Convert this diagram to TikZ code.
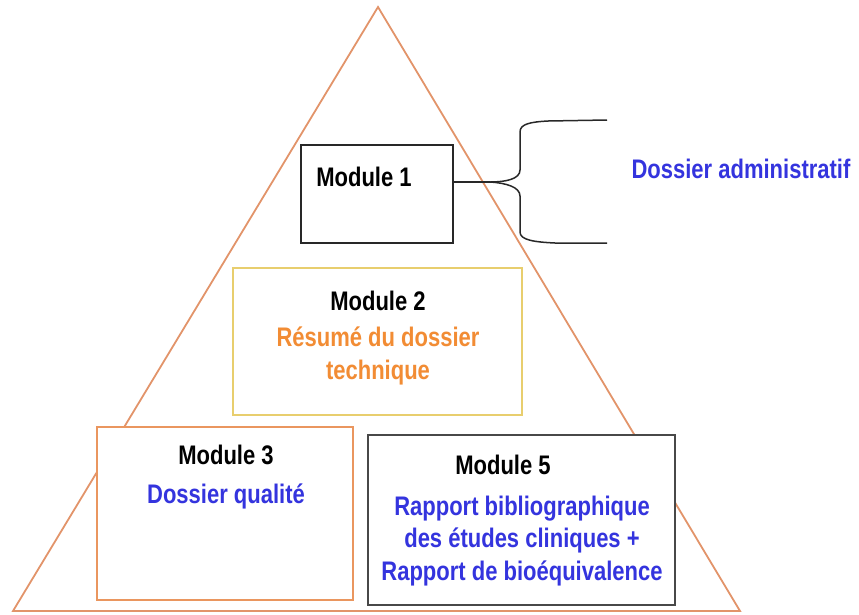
\documentclass[tikz,border=0pt]{standalone}
\usepackage{fontspec}
\setmainfont{Liberation Sans}
\definecolor{tri}{RGB}{226,148,106}
\definecolor{mblue}{RGB}{52,52,222}
\definecolor{morange}{RGB}{242,140,52}
\definecolor{gold}{RGB}{232,206,110}
\definecolor{m3c}{RGB}{234,150,95}
\definecolor{dk}{RGB}{40,40,40}
\begin{document}
\begin{tikzpicture}[x=1pt,y=1pt,
  box/.style={draw, fill=white, line width=1.8pt, inner sep=0pt},
  txt/.style={font=\fontsize{22}{27}\bfseries\selectfont, align=center, inner sep=0pt, transform shape, yscale=1.22},
  ]
\useasboundingbox (0,0) rectangle (859,-614);
% triangle
\coordinate (apex) at (378,-7);
\coordinate (bl) at (13,-611);
\coordinate (br) at (740,-611);
\draw[tri, line width=1.8pt, line join=miter] (apex) -- (bl) -- (br) -- cycle;
% boxes
\node[box, draw=dk, minimum width=152pt, minimum height=98pt] (m1) at (377,-194) {};
\node[box, draw=gold, minimum width=289pt, minimum height=147pt] (m2) at (377.5,-341.5) {};
\node[box, draw=m3c, minimum width=256pt, minimum height=173pt] (m3) at (225,-513.5) {};
\node[box, draw=dk!85, minimum width=307pt, minimum height=170pt] (m5) at (521.5,-520) {};
% texts
\node[txt] (t1) at (364,-177) {Module 1};
\node[txt] (t2) at (378,-338) {Module 2\\[3pt]\textcolor{morange}{Résumé du dossier}\\\textcolor{morange}{technique}};
\node[txt] (t3) at (226,-477) {Module 3\\[5pt]\textcolor{mblue}{Dossier qualité}};
\node[txt] (t5) at (503,-465) {Module 5};
\node[txt, text=mblue] (t5b) at (522,-541) {Rapport bibliographique\\des études cliniques +\\Rapport de bioéquivalence};
\node[txt, text=mblue] (da) at (741,-169) {Dossier administratif};
% brace
\coordinate (bm) at (490,-182);
\coordinate (bu) at (607,-120);
\coordinate (bd) at (607,-243);
\draw[dk, line width=1.5pt] (m1.east |- bm) -- (bm);
\draw[dk, line width=1.5pt] (bm) .. controls (506,-182) and (520,-179) .. (520,-170) -- (520,-132)
  .. controls (520,-124) and (530,-122) .. (548,-121) -- (bu);
\draw[dk, line width=1.5pt] (bm) .. controls (506,-183) and (520,-187) .. (520,-196) -- (520,-232)
  .. controls (520,-240) and (534,-242) .. (555,-243) -- (bd);
\end{tikzpicture}
\end{document}
